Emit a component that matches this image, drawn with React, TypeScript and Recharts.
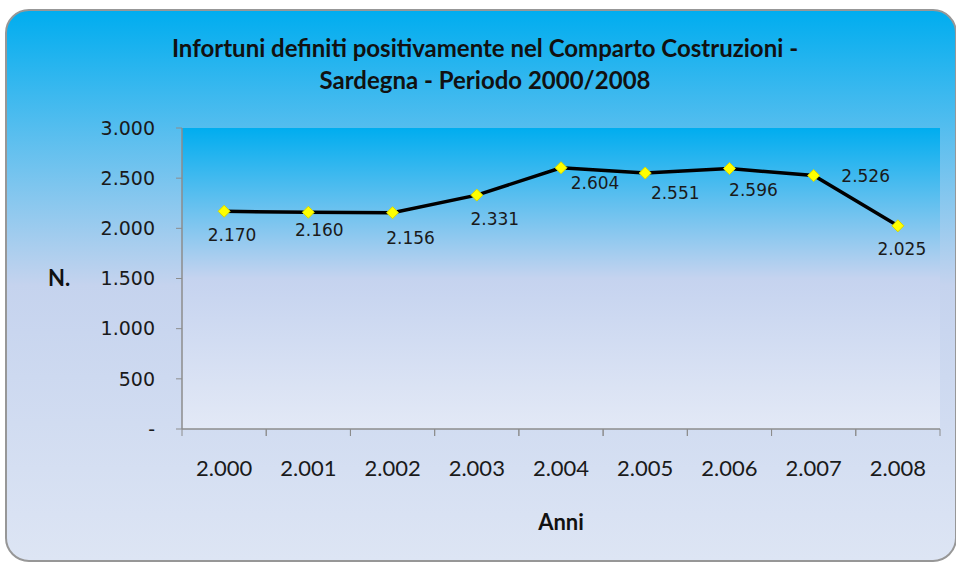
import { LineChart, Line, XAxis, YAxis, CartesianGrid } from 'recharts'

const years = ['2.000', '2.001', '2.002', '2.003', '2.004', '2.005', '2.006', '2.007', '2.008']
const injuries = [2170, 2160, 2156, 2331, 2604, 2551, 2596, 2526, 2025]
const yTicks = [0, 500, 1000, 1500, 2000, 2500, 3000]

// label nudges (dx, dy) relative to each point, as placed in the original
const labelOffsets = [
  [8, 24], [11, 18], [18, 25], [18, 24], [34, 15], [30, 20], [24, 21], [52, 0], [4, 23],
]

const data = years.map((year, i) => ({ year, value: injuries[i] }))

const W = 956
const H = 563
const PLOT_LEFT = 182
const PLOT_RIGHT = 940
const BAND = (PLOT_RIGHT - PLOT_LEFT) / years.length

const fmt = (v: number) => (v === 0 ? '-' : v.toLocaleString('de-DE'))

const Diamond = (props: any) => {
  const { cx, cy } = props
  if (cx == null || cy == null) return null
  const r = 6
  return (
    <polygon
      points={`${cx},${cy - r} ${cx + r},${cy} ${cx},${cy + r} ${cx - r},${cy}`}
      fill="#ffff00"
      stroke="#d6d600"
      strokeWidth={1}
    />
  )
}

const ValueLabel = (props: any) => {
  const { x, y, value, index } = props
  const [dx, dy] = labelOffsets[index] ?? [0, 20]
  return (
    <text
      x={x + dx}
      y={y + dy}
      textAnchor="middle"
      dominantBaseline="central"
      fontFamily="'DejaVu Sans', Verdana, sans-serif"
      fontSize={17}
      fill="#1a1a1a"
    >
      {fmt(value)}
    </text>
  )
}

const YearTick = (props: any) => {
  const { x, y, payload } = props
  const axisY = y - 8
  return (
    <g>
      <line x1={x - BAND / 2} y1={axisY} x2={x - BAND / 2} y2={axisY + 7} stroke="#8c8c8c" />
      <line x1={x + BAND / 2} y1={axisY} x2={x + BAND / 2} y2={axisY + 7} stroke="#8c8c8c" />
      <text
        x={x}
        y={axisY + 47}
        textAnchor="middle"
        fontFamily="Lato, 'Open Sans', sans-serif"
        fontSize={22}
        fill="#1a1a1a"
      >
        {payload.value}
      </text>
    </g>
  )
}

export default function App() {
  return (
    <div style={{ position: 'absolute', left: 0, top: 0, width: W, height: H, overflow: 'hidden', background: '#fff' }}>
      <svg width={0} height={0} style={{ position: 'absolute' }}>
        <defs>
          <linearGradient id="plotGrad" x1="0" y1="0" x2="0" y2="1">
            <stop offset="0%" stopColor="#00adef" />
            <stop offset="50%" stopColor="#c5d3ef" />
            <stop offset="100%" stopColor="#e3e9f6" />
          </linearGradient>
        </defs>
      </svg>
      <div
        style={{
          position: 'absolute',
          left: 5,
          top: 9,
          width: 948,
          height: 549,
          border: '2px solid #979797',
          borderRadius: 24,
          background: 'linear-gradient(to bottom, #00adef 0%, #c5d3ee 50%, #dde5f4 100%)',
        }}
      />
      <div
        style={{
          position: 'absolute',
          left: 0,
          top: 32,
          width: 970,
          textAlign: 'center',
          fontFamily: 'Lato, sans-serif',
          fontWeight: 700,
          fontSize: 24,
          lineHeight: '32px',
          color: '#111',
        }}
      >
        Infortuni definiti positivamente nel Comparto Costruzioni -
        <br />
        Sardegna - Periodo 2000/2008
      </div>
      <div style={{ position: 'absolute', left: 0, top: 0 }}>
        <LineChart width={W} height={H} data={data} margin={{ top: 128, right: 16, bottom: 29, left: 0 }}>
          <CartesianGrid horizontal={false} vertical={false} fill="url(#plotGrad)" stroke="none" />
          <XAxis
            dataKey="year"
            height={105}
            padding={{ left: BAND / 2, right: BAND / 2 }}
            axisLine={{ stroke: '#8c8c8c', strokeWidth: 1.5 }}
            tickLine={false}
            tick={<YearTick />}
            interval={0}
            label={{
              value: 'Anni',
              position: 'insideBottom',
              offset: 4,
              fontFamily: 'Lato, sans-serif',
              fontWeight: 700,
              fontSize: 22,
              fill: '#111',
            }}
          />
          <YAxis
            width={182}
            domain={[0, 3000]}
            ticks={yTicks}
            tickFormatter={fmt}
            axisLine={{ stroke: '#8c8c8c', strokeWidth: 1.5 }}
            tickLine={{ stroke: '#8c8c8c' }}
            tickSize={6}
            tickMargin={21}
            tick={{ fontFamily: "'DejaVu Sans', Verdana, sans-serif", fontSize: 19, fill: '#1a1a1a' }}
            label={{
              value: 'N.',
              position: 'insideLeft',
              offset: 48,
              fontFamily: 'Lato, sans-serif',
              fontWeight: 700,
              fontSize: 22,
              fill: '#111',
            }}
          />
          <Line
            dataKey="value"
            stroke="#000"
            strokeWidth={3.5}
            dot={<Diamond />}
            activeDot={false}
            label={<ValueLabel />}
            isAnimationActive={false}
          />
        </LineChart>
      </div>
    </div>
  )
}
